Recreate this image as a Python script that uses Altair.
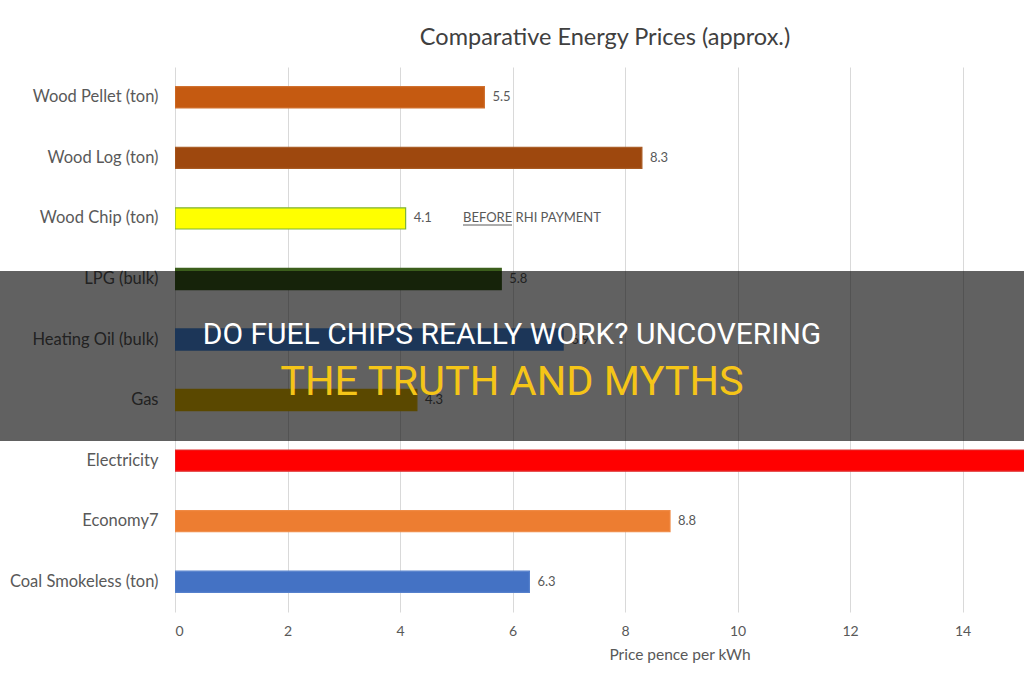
import altair as alt
import pandas as pd

categories = ["Wood Pellet (ton)", "Wood Log (ton)", "Wood Chip (ton)", "LPG (bulk)",
              "Heating Oil (bulk)", "Gas", "Electricity", "Economy7", "Coal Smokeless (ton)"]
prices = [5.5, 8.3, 4.1, 5.8, 6.9, 4.3, 15.5, 8.8, 6.3]
fill_colors = ["#c55a11", "#9e480e", "#ffff00", "#3b5e1c", "#4a8fe6", "#edbd00",
               "#ff0000", "#ed7d31", "#4472c4"]
stroke_colors = ["#d0702e", "#a85a22", "#7fb33a", "#3b5e1c", "#4a8fe6", "#edbd00",
                 "#e03030", "#f08a45", "#5580cc"]
tick_values = [0, 2, 4, 6, 8, 10, 12, 14]

chart_title = "Comparative Energy Prices (approx.)"
axis_title = "Price pence per kWh"
note_underlined = "BEFORE"
note_text = "BEFORE RHI PAYMENT"
overlay_line1 = "DO FUEL CHIPS REALLY WORK? UNCOVERING"
overlay_line2 = "THE TRUTH AND MYTHS"

FONT = "Lato, Open Sans, sans-serif"
GREY = "#595959"
W, H = 849, 545

df = pd.DataFrame({"category": categories, "price": prices})

xscale = alt.Scale(domain=[0, 15.093], nice=False, zero=True)
yscale = alt.Scale(paddingInner=0.65, paddingOuter=0.325)

base = alt.Chart(df)

bars = base.mark_bar(clip=True, strokeWidth=1.2).encode(
    y=alt.Y("category:N", sort=categories, scale=yscale,
            axis=alt.Axis(title=None, labelFontSize=16.5, labelColor=GREY, labelFont=FONT,
                          labelPadding=17, domain=False, ticks=False, grid=False)),
    x=alt.X("price:Q", scale=xscale,
            axis=alt.Axis(title=None, values=tick_values, format="d", labelFontSize=14,
                          labelColor=GREY, labelFont=FONT, labelPadding=12, domain=False,
                          ticks=False, grid=True, gridColor="#d9d9d9", gridWidth=1)),
    color=alt.Color("category:N", scale=alt.Scale(domain=categories, range=fill_colors), legend=None),
    stroke=alt.Stroke("category:N", scale=alt.Scale(domain=categories, range=stroke_colors), legend=None),
)

labels = base.transform_filter("datum.price < 15").mark_text(
    align="left", baseline="middle", dx=8, fontSize=13, color=GREY, font=FONT
).encode(
    y=alt.Y("category:N", sort=categories, scale=yscale),
    x=alt.X("price:Q", scale=xscale),
    text=alt.Text("price:Q", format=".1f"),
)

def one(t):
    return pd.DataFrame({"t": [t]})

title_mark = alt.Chart(one(chart_title)).mark_text(
    align="center", baseline="middle", fontSize=23.5, color="#404040", font=FONT
).encode(x=alt.value(430), y=alt.value(-29), text="t:N")

axis_title_mark = alt.Chart(one(axis_title)).mark_text(
    align="center", baseline="middle", fontSize=15.5, color=GREY, font=FONT
).encode(x=alt.value(505), y=alt.value(588), text="t:N")

note = alt.Chart(one(note_text)).mark_text(
    align="left", baseline="middle", fontSize=13, color=GREY, font=FONT
).encode(x=alt.value(288), y=alt.value(151), text="t:N")

underline = alt.Chart(one(note_underlined)).mark_rule(color=GREY, strokeWidth=1).encode(
    x=alt.value(288), x2=alt.value(337), y=alt.value(158)
)

overlay = alt.Chart(one("band")).mark_rect(color="black", opacity=0.62).encode(
    x=alt.value(-175), x2=alt.value(849), y=alt.value(204), y2=alt.value(374)
)

ov_font = "Roboto, sans-serif"
ov1 = alt.Chart(one(overlay_line1)).mark_text(
    align="center", baseline="middle", fontSize=30, color="white", font=ov_font
).encode(x=alt.value(337), y=alt.value(268), text="t:N")

ov2 = alt.Chart(one(overlay_line2)).mark_text(
    align="center", baseline="middle", fontSize=41.5, color="#f5c518", font=ov_font
).encode(x=alt.value(337), y=alt.value(316), text="t:N")

chart = alt.layer(
    bars, labels, title_mark, axis_title_mark, note, underline, overlay, ov1, ov2
).properties(
    width=W, height=H,
    autosize=alt.AutoSizeParams(type="none"),
    padding={"left": 175, "top": 67, "right": 0, "bottom": 68},
    background="white",
).configure_view(stroke=None)

chart.save("out.html", embed_options={"renderer": "svg", "actions": False})
